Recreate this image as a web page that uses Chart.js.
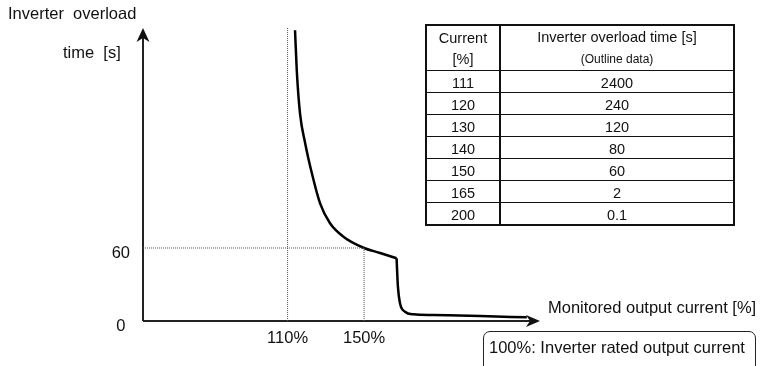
<!DOCTYPE html>
<html>
<head>
<meta charset="utf-8">
<script src="https://cdn.jsdelivr.net/npm/chart.js@4.4.1/dist/chart.umd.min.js"></script>
<style>
  html, body { margin: 0; padding: 0; background: #fff; }
  #wrap { position: relative; width: 767px; height: 366px; overflow: hidden;
          font-family: "Liberation Sans", Arial, sans-serif; color: #111; }
  #chart { position: absolute; left: 0; top: 0; }
  .lbl { position: absolute; font-size: 16.5px; line-height: 16px; white-space: pre; }
  #note { position: absolute; left: 483px; top: 331px; width: 271px; height: 50px;
          border: 1px solid #222; border-radius: 7px; }
  #tbl { position: absolute; left: 425px; top: 24px; width: 310px; border-collapse: collapse;
         table-layout: fixed; font-size: 14.5px; line-height: 14px; border: 2px solid #111; }
  #tbl td { border: 1px solid #111; text-align: center; padding: 3px 0 0 0; height: 18px; }
  #tbl td:first-child { border-right: 2px solid #111; }
  #tbl tr.head td { height: 38px; line-height: 21px; padding: 1px 0 0 0; }
  #tbl .small { font-size: 12px; }
</style>
</head>
<body>
<div id="wrap">
  <canvas id="chart" width="767" height="366"></canvas>
  <div class="lbl" style="left:8px; top:5px;">Inverter  overload</div>
  <div class="lbl" style="left:63px; top:44px;">time  [s]</div>
  <div class="lbl" style="left:548px; top:299px;">Monitored output current [%]</div>
  <div id="note"></div>
  <div class="lbl" style="left:489px; top:339px;">100%: Inverter rated output current</div>
  <table id="tbl">
    <colgroup><col style="width:74px"><col></colgroup>
    <tbody id="tbody">
      <tr class="head"><td>Current<br>[%]</td><td>Inverter overload time [s]<br><span class="small">(Outline data)</span></td></tr>
    </tbody>
  </table>
</div>
<script>
// Overload curve, upper (hyperbolic) branch, current % / time s
const upperCurrent = [113.9, 114.8, 116.5, 119.2, 122.7, 127.0, 132.2, 139.2, 150, 158.4, 167.0];
const upperTime    = [239, 206.3, 170.7, 146.1, 121.4, 96.7, 80.3, 69.3, 60, 55.9, 51.6];
// Lower branch after the drop
const lowerCurrent = [167.0, 167.7, 168.8, 171.4, 175.8, 186.1, 210.7, 235.1];
const lowerTime    = [51.6, 28.2, 14.5, 7.6, 5.5, 4.9, 4.1, 3.0];

// Tick labels
const currentTicks = [110, 150];
const timeTicks = [0, 60];

// Table (outline data)
const tableCurrent = ['111', '120', '130', '140', '150', '165', '200'];
const tableTime = ['2400', '240', '120', '80', '60', '2', '0.1'];

const xMin = 34.4, xMax = 242;
const yMin = 0, yMax = 240.8;

// build table rows
const tbody = document.getElementById('tbody');
tableCurrent.forEach((c, i) => {
    const tr = document.createElement('tr');
    tr.innerHTML = '<td>' + c + '</td><td>' + tableTime[i] + '</td>';
    tbody.appendChild(tr);
});

function toPoints(xs, ys) {
    return xs.map((x, i) => ({ x: x, y: ys[i] }));
}

const guideStyle = {
    borderColor: '#555',
    borderWidth: 1,
    borderDash: [1, 1],
    pointRadius: 0,
    showLine: true,
    fill: false
};

// axis lines with arrow heads
const axisArrows = {
    id: 'axisArrows',
    beforeDatasetsDraw(chart) {
        const ctx = chart.ctx;
        const a = chart.chartArea;
        ctx.save();
        ctx.strokeStyle = '#222';
        ctx.fillStyle = '#111';
        ctx.lineWidth = 2;
        ctx.beginPath();
        ctx.moveTo(a.left, a.bottom);
        ctx.lineTo(a.left, a.top + 8);
        ctx.moveTo(a.left, a.bottom);
        ctx.lineTo(a.right - 8, a.bottom);
        ctx.stroke();
        // y arrow
        ctx.beginPath();
        ctx.moveTo(a.left, a.top);
        ctx.lineTo(a.left - 6.5, a.top + 14);
        ctx.lineTo(a.left, a.top + 10);
        ctx.lineTo(a.left + 6.5, a.top + 14);
        ctx.closePath();
        ctx.fill();
        // x arrow
        ctx.beginPath();
        ctx.moveTo(a.right, a.bottom);
        ctx.lineTo(a.right - 14, a.bottom - 6);
        ctx.lineTo(a.right - 10, a.bottom);
        ctx.lineTo(a.right - 14, a.bottom + 6);
        ctx.closePath();
        ctx.fill();
        ctx.restore();
    }
};

const ctx = document.getElementById('chart').getContext('2d');
new Chart(ctx, {
    type: 'scatter',
    data: {
        datasets: [
            Object.assign({ data: toPoints([currentTicks[0], currentTicks[0]], [yMin, yMax]) }, guideStyle),
            Object.assign({ data: toPoints([xMin, currentTicks[1]], [timeTicks[1], timeTicks[1]]) }, guideStyle),
            Object.assign({ data: toPoints([currentTicks[1], currentTicks[1]], [yMin, timeTicks[1]]) }, guideStyle),
            {
                data: toPoints(upperCurrent, upperTime),
                showLine: true,
                borderColor: '#000',
                borderWidth: 2.5,
                pointRadius: 0,
                cubicInterpolationMode: 'monotone'
            },
            {
                data: toPoints(lowerCurrent, lowerTime),
                showLine: true,
                borderColor: '#000',
                borderWidth: 2.5,
                pointRadius: 0,
                cubicInterpolationMode: 'monotone'
            }
        ]
    },
    options: {
        responsive: false,
        animation: false,
        layout: { padding: { left: 0, right: 227, top: 28, bottom: 0 } },
        plugins: {
            legend: { display: false },
            tooltip: { enabled: false }
        },
        scales: {
            x: {
                type: 'linear',
                min: xMin,
                max: xMax,
                grid: { display: false },
                border: { display: false },
                afterBuildTicks: (scale) => { scale.ticks = currentTicks.map(v => ({ value: v })); },
                afterFit: (scale) => { scale.height = 45; },
                ticks: {
                    autoSkip: false,
                    padding: 0,
                    color: '#111',
                    font: { family: 'Liberation Sans', size: 16.5 },
                    callback: (v) => v + '%'
                }
            },
            y: {
                min: yMin,
                max: yMax,
                grid: { display: false },
                border: { display: false },
                afterBuildTicks: (scale) => { scale.ticks = timeTicks.map(v => ({ value: v })); },
                afterFit: (scale) => { scale.width = 143; },
                ticks: {
                    crossAlign: 'center',
                    padding: 5,
                    labelOffset: 5,
                    color: '#111',
                    font: { family: 'Liberation Sans', size: 16.5 }
                }
            }
        }
    },
    plugins: [axisArrows]
});
</script>
</body>
</html>
